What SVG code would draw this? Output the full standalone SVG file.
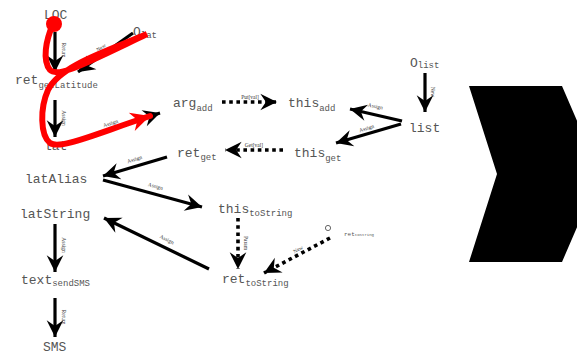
<svg xmlns="http://www.w3.org/2000/svg" width="577" height="354" viewBox="0 0 577 354">
  <style>
    .n { font-family: "Liberation Mono", "DejaVu Sans Mono", monospace; font-size: 13px; fill: #555; }
    .s { font-size: 9px; }
    .e { stroke: #000; stroke-width: 3.2; fill: none; marker-end: url(#ah); }
    .d { stroke: #000; stroke-width: 3.6; fill: none; stroke-dasharray: 3.6 3.6; marker-end: url(#ah); }
    .l { font-family: "Liberation Serif", "DejaVu Serif", serif; font-size: 5.5px; fill: #333; text-anchor: middle; }
  </style>
  <defs>
    <marker id="ah" markerUnits="userSpaceOnUse" markerWidth="20" markerHeight="20" viewBox="-16 -9 18 18" refX="0" refY="0" orient="auto">
      <path d="M0,0 L-15,-7.5 L-10,0 L-15,7.5 Z" fill="#000"/>
    </marker>
    <marker id="rh" markerUnits="userSpaceOnUse" markerWidth="24" markerHeight="24" viewBox="-18 -10 20 20" refX="0" refY="0" orient="auto">
      <path d="M0,0 L-16,-8 L-11,0 L-16,8 Z" fill="#f00"/>
    </marker>
  </defs>

  <!-- chevron -->
  <polygon points="469,86 562,86 600,174 562,262 469,262 497,174" fill="#000"/>

  <g id="edges">
    <line class="e" x1="55" y1="32" x2="55" y2="72"/>
    <text class="l" transform="translate(62,50) rotate(90)">Return</text>
    <line class="e" x1="133" y1="33" x2="78" y2="72"/>
    <text class="l" transform="translate(102,49) rotate(-33)">New</text>
    <line class="e" x1="55" y1="100" x2="55" y2="137"/>
    <text class="l" transform="translate(62,118) rotate(90)">Assign</text>
    <line class="e" x1="72" y1="142" x2="160" y2="113"/>
    <text class="l" transform="translate(111,125) rotate(-18)">Assign</text>
    <line class="d" x1="222" y1="102" x2="277" y2="102"/>
    <text class="l" x="250" y="99">Put[val]</text>
    <line class="e" x1="425" y1="73" x2="425" y2="112"/>
    <text class="l" transform="translate(431,92) rotate(90)">New</text>
    <line class="e" x1="402" y1="121" x2="350" y2="109"/>
    <text class="l" transform="translate(375,108) rotate(12)">Assign</text>
    <line class="e" x1="401" y1="124" x2="336" y2="143"/>
    <text class="l" transform="translate(367,130) rotate(-17)">Assign</text>
    <line class="d" x1="283" y1="150" x2="225" y2="150"/>
    <text class="l" x="254" y="147">Get[val]</text>
    <line class="e" x1="167" y1="157" x2="103" y2="176"/>
    <text class="l" transform="translate(135,161) rotate(-17)">Assign</text>
    <line class="e" x1="103" y1="180" x2="202" y2="207"/>
    <text class="l" transform="translate(155,188) rotate(15)">Assign</text>
    <line class="e" x1="209" y1="269" x2="104" y2="218"/>
    <text class="l" transform="translate(166,241) rotate(26)">Assign</text>
    <line class="e" x1="55" y1="224" x2="55" y2="272"/>
    <text class="l" transform="translate(62,245) rotate(90)">Assign</text>
    <line class="d" x1="238" y1="218" x2="238" y2="269"/>
    <text class="l" transform="translate(244,243) rotate(90)">Param</text>
    <line class="d" x1="330" y1="238" x2="264" y2="273"/>
    <text class="l" transform="translate(299,251) rotate(-28)">New</text>
    <line class="e" x1="55" y1="298" x2="55" y2="337"/>
    <text class="l" transform="translate(62,317) rotate(90)">Return</text>
  </g>

  <g id="LOC"><text class="n" x="44" y="19">LOC</text></g>
  <g id="O_lat"><text class="n" x="133" y="36">O<tspan class="s" dy="2">lat</tspan></text></g>
  <g id="ret_getLatitude"><text class="n" x="15" y="84">ret<tspan class="s" dy="4">getLatitude</tspan></text></g>
  <g id="lat"><text class="n" x="44" y="150">lat</text></g>
  <g id="arg_add"><text class="n" x="173" y="107">arg<tspan class="s" dy="4">add</tspan></text></g>
  <g id="this_add"><text class="n" x="288" y="107">this<tspan class="s" dy="4">add</tspan></text></g>
  <g id="O_list"><text class="n" x="410" y="67">O<tspan class="s" dy="1">list</tspan></text></g>
  <g id="list"><text class="n" x="409" y="132">list</text></g>
  <g id="ret_get"><text class="n" x="177" y="157">ret<tspan class="s" dy="3">get</tspan></text></g>
  <g id="this_get"><text class="n" x="294" y="157">this<tspan class="s" dy="4">get</tspan></text></g>
  <g id="latAlias"><text class="n" x="25" y="183">latAlias</text></g>
  <g id="latString"><text class="n" x="20" y="218">latString</text></g>
  <g id="this_toString"><text class="n" x="218" y="213">this<tspan class="s" dy="3">toString</tspan></text></g>
  <g id="O_ret_toString">
    <circle cx="328" cy="228" r="2.6" fill="none" stroke="#555" stroke-width="0.9"/>
    <text x="344" y="236" font-family="Liberation Mono, monospace" font-size="6" fill="#555">ret<tspan font-size="4">toString</tspan></text>
  </g>
  <g id="ret_toString"><text class="n" x="222" y="283">ret<tspan class="s" dy="3">toString</tspan></text></g>
  <g id="text_sendSMS"><text class="n" x="21" y="284">text<tspan class="s" dy="2">sendSMS</tspan></text></g>
  <g id="SMS"><text class="n" x="43" y="351">SMS</text></g>

  <!-- highlighted flow -->
  <g id="flow">
    <circle cx="54" cy="24" r="8" fill="#f00"/>
    <path d="M53 24 C46 40, 42 60, 50 70 C58 78, 80 66, 147 34 C110 50, 60 65, 48 90 C40 108, 40 135, 50 143 C60 150, 95 134, 150 116" fill="none" stroke="#f00" stroke-width="6" stroke-linecap="round" marker-end="url(#rh)"/>
  </g>
</svg>
